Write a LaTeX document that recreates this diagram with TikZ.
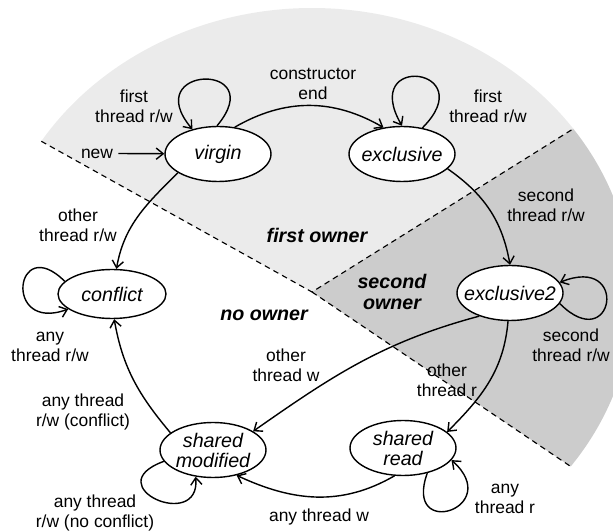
\documentclass[tikz,border=0pt]{standalone}
\usepackage{fontspec}
\setmainfont{Liberation Sans}
\usetikzlibrary{arrows.meta,shapes.geometric}
\definecolor{zoneone}{HTML}{EBEBEB}
\definecolor{zonetwo}{HTML}{CCCCCC}
\begin{document}
\begin{tikzpicture}[>={Straight Barb[length=5pt,width=8pt]},line width=1pt,
  state/.style={ellipse,draw,fill=white,minimum width=2.65cm,minimum height=1.375cm,inner xsep=-7pt,inner ysep=-2pt,align=center,font=\fontsize{14}{14.2}\selectfont\itshape},
  lbl/.style={align=center,font=\fontsize{12.4}{14}\selectfont},
  zone/.style={align=center,font=\fontsize{14}{15}\selectfont\bfseries\itshape}]
\useasboundingbox (0,0) rectangle (15.325,13.275);
% owner zones
\begin{scope}
\clip (0,0) rectangle (15.325,13.275);
\coordinate (ctr) at (7.8,5.875);
\coordinate (apex) at (7.8,5.975);
\path (ctr) ++(147.5:8.025cm and 7.2cm) coordinate (edgeL);
\path (ctr) ++(35.5:8.025cm and 7.2cm) coordinate (edgeR);
\path (ctr) ++(-36.3:8.025cm and 7.2cm) coordinate (edgeB);
\fill[zoneone] (apex) -- (edgeL) arc[start angle=147.5,end angle=35.5,x radius=8.025cm,y radius=7.2cm] -- cycle;
\fill[zonetwo] (apex) -- (edgeR) arc[start angle=35.5,end angle=-36.3,x radius=8.025cm,y radius=7.2cm] -- cycle;
\end{scope}
\draw[dash pattern=on 4pt off 3pt,line width=0.8pt] (edgeL) -- (apex) -- (edgeR);
\draw[dash pattern=on 4pt off 3pt,line width=0.8pt] (apex) -- (edgeB);
\node[zone] (firstowner) at (7.925,7.4) {first owner};
\node[zone] (secondowner) at (9.8,5.975) {second\\owner};
\node[zone] (noowner) at (6.6,5.4) {no owner};
% states
\node[state] (virgin) at (5.45,9.425) {virgin};
\node[state] (exclusive) at (10.05,9.425) {exclusive};
\node[state] (exclusive2) at (12.75,5.95) {exclusive2};
\node[state,minimum width=2.7cm,minimum height=1.225cm] (conflict) at (2.8,5.925) {conflict};
\node[state] (shmod) at (5.325,2.025) {shared\\modified};
\node[state] (shread) at (10.075,2.075) {shared\\read};
% labels
\node[lbl] (new) at (2.425,9.44) {new};
\node[lbl] (lblvirgin) at (3.35,10.625) {first\\thread r/w};
\node[lbl] (lblctor) at (7.825,11.175) {constructor\\end};
\node[lbl] (lblexcl) at (12.2,10.625) {first\\thread r/w};
\node[lbl] (lblsecond) at (13.65,8.15) {second\\thread r/w};
\node[lbl] (lblexcltwo) at (14.275,4.65) {second\\thread r/w};
\node[lbl] (lblother) at (1.95,7.65) {other\\thread r/w};
\node[lbl] (lblconflict) at (1.25,4.6) {any\\thread r/w};
\node[lbl] (lblotherw) at (7.15,4.15) {other\\thread w};
\node[lbl] (lblotherr) at (11.175,3.775) {other\\thread r};
\node[lbl] (lblmodconf) at (2.075,2.975) {any thread\\r/w (conflict)};
\node[lbl] (lblmodloop) at (2.375,0.45) {any thread\\r/w (no conflict)};
\node[lbl] (lblanyw) at (7.975,0.35) {any thread w};
\node[lbl] (lblanyr) at (12.625,0.8) {any\\thread r};
% transitions
\draw[->] (new) -- (virgin);
\draw[->] (virgin.58) to[out=30,in=150] (exclusive.125);
\draw[->] (virgin.92) .. controls +(50:2.1cm) and +(130:2.1cm) .. (virgin.136);
\draw[->] (exclusive.52) .. controls +(45:2.125cm) and +(120:2.125cm) .. (exclusive.90);
\draw[->] (exclusive.-18) to[out=-35,in=100] (exclusive2.90);
\draw[->] (exclusive2.-12) .. controls +(-45:1.9cm) and +(22:1.9cm) .. (exclusive2.12);
\draw[->] (virgin.205) to[out=225,in=80] (conflict.80);
\draw[->] (conflict.165) .. controls +(135:1.75cm) and +(200:1.75cm) .. (conflict.199);
\draw[->] (exclusive2.217) to[out=195,in=35] (shmod.25);
\draw[->] (exclusive2.266) to[out=-95,in=45] (shread.20);
\draw[->] (shread.253) to[out=210,in=-25] (shmod.313);
\draw[->] (shread.-46) .. controls +(-110:1.8cm) and +(-42:1.8cm) .. (shread.-14);
\draw[->] (shmod.193) .. controls +(200:1.8cm) and +(-85:1.4cm) .. (shmod.237);
\draw[->] (shmod.158) to[out=130,in=-80] (conflict.275);
\end{tikzpicture}
\end{document}
